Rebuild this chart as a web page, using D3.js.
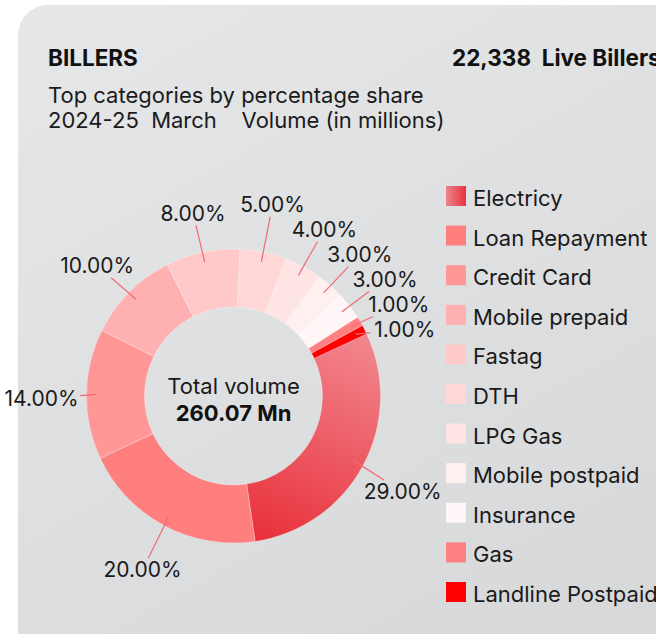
<!DOCTYPE html>
<html>
<head>
<meta charset="utf-8">
<script src="https://cdn.jsdelivr.net/npm/d3@7"></script>
<style>
  html, body { margin: 0; padding: 0; background: #fff; }
  svg { display: block; font-family: Inter, "Liberation Sans", sans-serif; }
  .pre { white-space: pre; }
</style>
</head>
<body>
<script>
// Data
const categories = ["Electricy", "Loan Repayment", "Credit Card", "Mobile prepaid", "Fastag", "DTH",
                    "LPG Gas", "Mobile postpaid", "Insurance", "Gas", "Landline Postpaid"];
const shares = [29, 20, 14, 10, 8, 5, 4, 3, 3, 1, 1];
const colors = ["url(#elecGrad)", "#ff7f7f", "#ff9797", "#ffb0b0", "#ffc9c9", "#ffd7d7",
                "#ffe4e4", "#fff0f0", "#fff7f7", "#ff8080", "#ff0000"];
const legendColors = ["url(#elecLegendGrad)", "#ff7f7f", "#ff9797", "#ffb0b0", "#ffc9c9", "#ffd7d7",
                      "#ffe4e4", "#fff0f0", "#fff7f7", "#ff8080", "#ff0000"];
const totalVolume = "260.07 Mn";
const liveBillers = "22,338";

const width = 656, height = 634;
const cx = 233.5, cy = 396;
const outerR = 147, innerR = 89;
const startDeg = 65;

const svg = d3.select("body").append("svg").attr("width", width).attr("height", height);
const defs = svg.append("defs");

const cardGrad = defs.append("linearGradient").attr("id", "cardGrad")
  .attr("x1", "0").attr("y1", "0").attr("x2", "0.6").attr("y2", "1");
cardGrad.append("stop").attr("offset", "0").attr("stop-color", "#e6e7e9");
cardGrad.append("stop").attr("offset", "1").attr("stop-color", "#d8d9db");

// gradient coordinates are in the donut group's space (origin at centre)
const elecGrad = defs.append("linearGradient").attr("id", "elecGrad")
  .attr("gradientUnits", "userSpaceOnUse")
  .attr("x1", 140).attr("y1", -60).attr("x2", 40).attr("y2", 150);
elecGrad.append("stop").attr("offset", "0").attr("stop-color", "#f28890");
elecGrad.append("stop").attr("offset", "1").attr("stop-color", "#e8313b");

const elecLegendGrad = defs.append("linearGradient").attr("id", "elecLegendGrad");
elecLegendGrad.append("stop").attr("offset", "0").attr("stop-color", "#ee858c");
elecLegendGrad.append("stop").attr("offset", "1").attr("stop-color", "#e8323c");

// card background
svg.append("rect")
  .attr("x", 18).attr("y", 5)
  .attr("width", 720).attr("height", 660)
  .attr("rx", 30)
  .attr("fill", "url(#cardGrad)");

// header
svg.append("text").attr("x", 48).attr("y", 66)
  .attr("font-size", 22.5).attr("font-weight", "bold").attr("fill", "#111")
  .text("BILLERS");

svg.append("text").attr("x", 452).attr("y", 66).attr("class", "pre")
  .attr("font-size", 22.5).attr("font-weight", "bold").attr("fill", "#111")
  .text(liveBillers + "  Live Billers");

svg.append("text").attr("x", 48).attr("y", 103)
  .attr("font-size", 22).attr("fill", "#1a1a1a")
  .text("Top categories by percentage share");

svg.append("text").attr("x", 48).attr("y", 128).attr("class", "pre")
  .attr("font-size", 22).attr("fill", "#1a1a1a")
  .text("2024-25  March    Volume (in millions)");

// donut
const pie = d3.pie().sort(null).value(d => d)
  .startAngle(startDeg * Math.PI / 180)
  .endAngle(startDeg * Math.PI / 180 + 2 * Math.PI);
const arcs = pie(shares);
const arc = d3.arc().innerRadius(innerR).outerRadius(outerR);

const g = svg.append("g").attr("transform", `translate(${cx},${cy})`);

g.selectAll("path.slice")
  .data(arcs)
  .enter()
  .append("path")
  .attr("class", "slice")
  .attr("d", arc)
  .attr("fill", (d, i) => colors[i])
  .attr("stroke", "rgba(255,255,255,0.35)")
  .attr("stroke-width", 0.8);

// center text
g.append("text").attr("text-anchor", "middle").attr("y", -2)
  .attr("font-size", 22).attr("fill", "#1a1a1a")
  .text("Total volume");
g.append("text").attr("text-anchor", "middle").attr("y", 25)
  .attr("font-size", 22).attr("font-weight", "bold").attr("fill", "#111")
  .text(totalVolume);

// data labels: placed around the ring, then spread apart where they crowd
const polar = (r, a) => [Math.sin(a) * r, -Math.cos(a) * r];
const labelR = outerR + 45;
const gap = 25;

const labels = arcs.map((d, i) => {
  const a = (d.startAngle + d.endAngle) / 2;
  const p = polar(labelR, a);
  return { i: i, a: a, x: p[0], y: p[1] + 5, side: Math.sin(a) >= 0 ? 1 : -1, text: d3.format(".2f")(d.data) + "%" };
});

function spread(list) {
  list.sort((a, b) => a.y - b.y);
  let groups = list.map(l => ({ items: [l], mean: l.y }));
  let merged = true;
  while (merged) {
    merged = false;
    for (let k = 1; k < groups.length; k++) {
      const prev = groups[k - 1], cur = groups[k];
      const prevBottom = prev.mean + (prev.items.length - 1) / 2 * gap;
      const curTop = cur.mean - (cur.items.length - 1) / 2 * gap;
      if (curTop - prevBottom < gap) {
        const items = prev.items.concat(cur.items);
        groups.splice(k - 1, 2, { items: items, mean: d3.mean(items, l => l.y) });
        merged = true;
        break;
      }
    }
  }
  groups.forEach(gr => {
    gr.items.forEach((l, j) => { l.y = gr.mean + (j - (gr.items.length - 1) / 2) * gap; });
  });
}
spread(labels.filter(l => l.side > 0));
spread(labels.filter(l => l.side < 0));

const labelText = g.selectAll("text.lbl")
  .data(labels)
  .enter()
  .append("text")
  .attr("class", "lbl")
  .attr("x", d => d.x)
  .attr("y", d => d.y)
  .attr("dy", "0.35em")
  .attr("text-anchor", "middle")
  .attr("font-size", 21)
  .attr("fill", "#1a1a1a")
  .text(d => d.text);

// leader lines: from inside the ring toward the label box
labelText.each(function(d) {
  const hw = this.getComputedTextLength() / 2 + 5;
  const hh = 12;
  const s = polar(outerR - 10, d.a);
  const dx = d.x - s[0], dy = d.y - s[1];
  // stop where the segment meets the padded label box
  const tx = Math.abs(dx) > 0 ? 1 - hw / Math.abs(dx) : 0;
  const ty = Math.abs(dy) > 0 ? 1 - hh / Math.abs(dy) : 0;
  const t = Math.min(0.95, Math.max(0.3, tx, ty));
  d.lx1 = s[0]; d.ly1 = s[1];
  d.lx2 = s[0] + dx * t; d.ly2 = s[1] + dy * t;
});

g.selectAll("line.leader")
  .data(labels)
  .enter()
  .insert("line", "text.lbl")
  .attr("class", "leader")
  .attr("x1", d => d.lx1).attr("y1", d => d.ly1)
  .attr("x2", d => d.lx2).attr("y2", d => d.ly2)
  .attr("stroke", "#ee6b75")
  .attr("stroke-width", 1.2);

// legend
const legend = svg.append("g").attr("id", "legend");
const rowH = 39.6;
const rows = legend.selectAll("g")
  .data(categories)
  .enter()
  .append("g")
  .attr("transform", (d, i) => `translate(446,${186 + i * rowH})`);

rows.append("rect")
  .attr("width", 20).attr("height", 20)
  .attr("fill", (d, i) => legendColors[i]);

rows.append("text")
  .attr("x", 27).attr("y", 20)
  .attr("font-size", 22)
  .attr("fill", "#1a1a1a")
  .text(d => d);
</script>
</body>
</html>
